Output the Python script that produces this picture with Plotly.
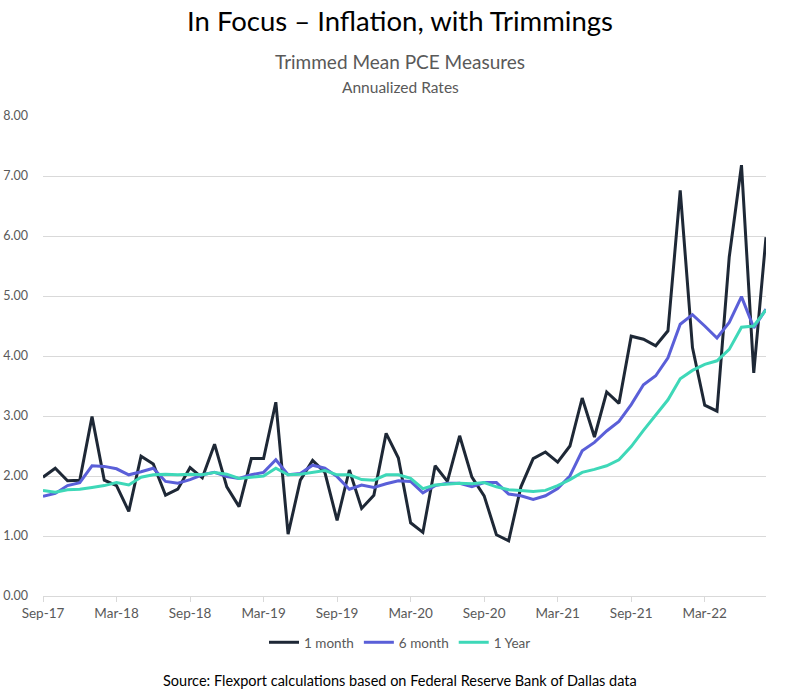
import plotly.graph_objects as go

months = ["Sep-17","Oct-17","Nov-17","Dec-17","Jan-18","Feb-18","Mar-18","Apr-18","May-18","Jun-18","Jul-18","Aug-18",
          "Sep-18","Oct-18","Nov-18","Dec-18","Jan-19","Feb-19","Mar-19","Apr-19","May-19","Jun-19","Jul-19","Aug-19",
          "Sep-19","Oct-19","Nov-19","Dec-19","Jan-20","Feb-20","Mar-20","Apr-20","May-20","Jun-20","Jul-20","Aug-20",
          "Sep-20","Oct-20","Nov-20","Dec-20","Jan-21","Feb-21","Mar-21","Apr-21","May-21","Jun-21","Jul-21","Aug-21",
          "Sep-21","Oct-21","Nov-21","Dec-21","Jan-22","Feb-22","Mar-22","Apr-22","May-22","Jun-22","Jul-22","Aug-22"]

one_month = [1.98,2.13,1.92,1.93,2.99,1.93,1.84,1.41,2.33,2.20,1.68,1.78,
             2.14,1.97,2.53,1.82,1.49,2.29,2.29,3.23,1.03,1.93,2.26,2.06,
             1.26,2.10,1.46,1.68,2.71,2.30,1.22,1.06,2.17,1.91,2.67,1.98,
             1.67,1.02,0.92,1.82,2.29,2.40,2.23,2.50,3.30,2.65,3.40,3.21,
             4.33,4.28,4.17,4.42,6.76,4.14,3.18,3.08,5.65,7.18,3.72,5.98]

six_month = [1.66,1.71,1.84,1.89,2.17,2.16,2.12,2.02,2.07,2.13,1.91,1.88,
             1.94,2.02,2.06,1.99,1.96,2.02,2.06,2.27,2.02,2.04,2.18,2.13,
             1.99,1.78,1.85,1.81,1.87,1.92,1.91,1.72,1.84,1.88,1.88,1.82,
             1.89,1.89,1.70,1.67,1.61,1.67,1.79,2.00,2.42,2.56,2.75,2.91,
             3.19,3.52,3.67,3.97,4.53,4.69,4.50,4.30,4.56,4.99,4.47,4.78]

one_year = [1.76,1.73,1.77,1.78,1.81,1.84,1.89,1.85,1.98,2.02,2.03,2.02,
            2.03,2.02,2.06,2.03,1.96,1.98,2.00,2.13,2.02,2.03,2.06,2.09,
            2.02,2.02,1.94,1.93,2.02,2.02,1.96,1.79,1.85,1.87,1.88,1.87,
            1.89,1.82,1.77,1.76,1.74,1.76,1.84,1.94,2.06,2.11,2.17,2.27,
            2.49,2.76,3.02,3.27,3.62,3.76,3.86,3.92,4.11,4.48,4.50,4.77]

tick_labels = ["Sep-17","Mar-18","Sep-18","Mar-19","Sep-19","Mar-20","Sep-20","Mar-21","Sep-21","Mar-22"]
y_ticks = [0,1,2,3,4,5,6,7,8]

FONT = "Lato"
x = list(range(len(months)))

W, H = 800, 694
PLOT_LEFT, PLOT_RIGHT = 43, 766
PLOT_TOP, PLOT_BOTTOM = 116, 596

def py(pix):
    return (PLOT_BOTTOM - pix) / (PLOT_BOTTOM - PLOT_TOP)

def px(pix):
    return (pix - PLOT_LEFT) / (PLOT_RIGHT - PLOT_LEFT)

fig = go.Figure()
series = [("1 month", one_month, "#1e2836"),
          ("6 month", six_month, "#5a5fd8"),
          ("1 Year", one_year, "#3ed8b8")]
for name, vals, col in series:
    fig.add_trace(go.Scatter(x=x, y=vals, mode="lines", name=name,
                             line=dict(color=col, width=3), customdata=months,
                             hovertemplate="%{customdata}: %{y:.2f}<extra>" + name + "</extra>"))

def ann(text, ypix, size, color):
    return dict(text=text, x=px(400), y=py(ypix), xref="paper", yref="paper",
                xanchor="center", yanchor="middle", showarrow=False,
                font=dict(size=size, color=color, family=FONT))

fig.update_layout(
    width=W, height=H,
    margin=dict(l=PLOT_LEFT, r=W - PLOT_RIGHT, t=PLOT_TOP, b=H - PLOT_BOTTOM),
    paper_bgcolor="white", plot_bgcolor="white",
    font=dict(family=FONT, color="#595959", size=13),
    showlegend=True,
    legend=dict(orientation="h", x=px(400), xanchor="center", y=py(627), yanchor="top",
                font=dict(size=13.5, color="#595959"), itemwidth=30, traceorder="normal"),
    annotations=[
        ann("In Focus – Inflation, with Trimmings", 20, 27.5, "#000000"),
        ann("Trimmed Mean PCE Measures", 62, 19, "#595959"),
        ann("Annualized Rates", 87, 15.5, "#595959"),
        ann("Source: Flexport calculations based on Federal Reserve Bank of Dallas data", 680, 14.5, "#000000"),
    ],
)

fig.update_xaxes(range=[0, len(months) - 1], tickmode="array",
                 tickvals=[months.index(t) for t in tick_labels], ticktext=tick_labels,
                 showgrid=False, showline=True, linecolor="#d9d9d9", linewidth=1,
                 ticks="outside", ticklen=5, tickcolor="#d9d9d9", zeroline=False,
                 automargin=False, tickfont=dict(size=13.5, color="#595959"))
fig.update_yaxes(range=[0, 8], tickmode="array", tickvals=y_ticks,
                 ticktext=[f"{v:.2f}" for v in y_ticks],
                 showgrid=True, gridcolor="#d9d9d9", gridwidth=1, zeroline=False,
                 showline=False, ticks="", ticklabelstandoff=14, automargin=False,
                 tickfont=dict(size=12.5, color="#595959"))

fig.write_html("out.html")
